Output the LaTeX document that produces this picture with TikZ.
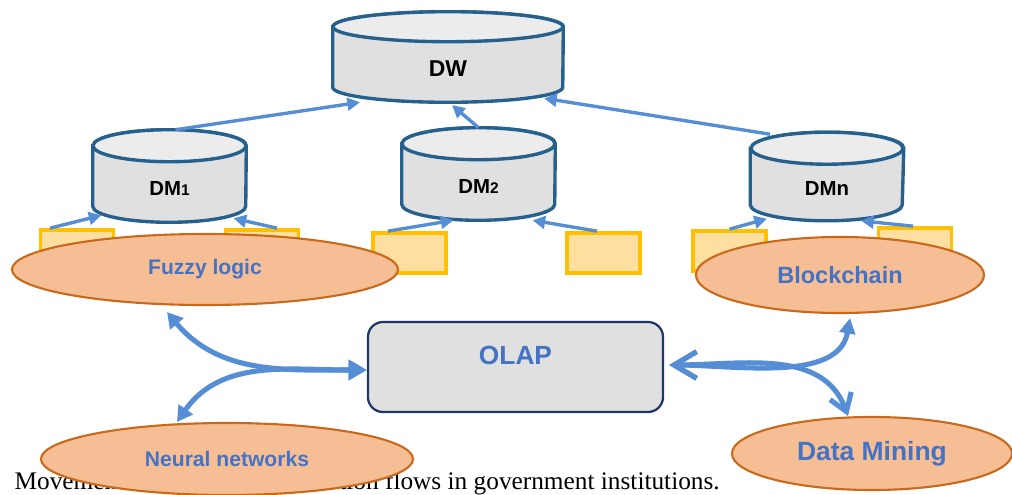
\documentclass[tikz,border=0pt]{standalone}
\usepackage{fontspec}
\setmainfont{Liberation Serif}
\setsansfont{Liberation Sans}
\usetikzlibrary{shapes.geometric, arrows.meta, backgrounds}

\definecolor{dbline}{HTML}{25618C}
\definecolor{dbbody}{HTML}{E0E0E0}
\definecolor{dbtop}{HTML}{ECECEC}
\definecolor{flowblue}{HTML}{558ED5}
\definecolor{txtblue}{HTML}{4472C4}
\definecolor{srcfill}{HTML}{FFDF9F}
\definecolor{srcline}{HTML}{FFC000}
\definecolor{techfill}{HTML}{F6BE95}
\definecolor{techline}{HTML}{C8691C}
\definecolor{olapline}{HTML}{1F3864}

\tikzset{
  dbase/.style={inner sep=0pt, minimum width=3.825cm, minimum height=2.3cm,
    text height=1cm, text depth=0.05cm,
    font=\sffamily\bfseries\fontsize{14.5}{16}\selectfont},
  dbwall/.style={draw=dbline, line width=2.4pt, fill=dbbody},
  srcbox/.style={draw=srcline, fill=srcfill, line width=2.6pt, minimum width=1.825cm, minimum height=1cm},
  tech/.style={ellipse, draw=techline, fill=techfill, line width=1.5pt, inner sep=0pt,
    text=txtblue, font=\sffamily\bfseries\fontsize{15}{17}\selectfont},
  feed/.style={draw=flowblue, line width=2.4pt, -{Triangle[length=9pt, width=9pt]}},
  link/.style={draw=flowblue, line width=3.6pt},
}

\begin{document}
\begin{tikzpicture}[x=0.025cm, y=-0.025cm]

  \useasboundingbox (0,0) rectangle (1012,494);

  % caption line of the page, half hidden
  \node[anchor=base east, inner sep=0pt, font=\fontsize{18}{20}\selectfont] (caption) at (720,489)
    {Movements of data and information flows in government institutions.};

  % warehouse and marts
  \node[dbase, minimum width=5.75cm, minimum height=2.25cm, font=\sffamily\bfseries\fontsize{16.3}{18}\selectfont] (DW) at (448,57) {DW};
  \node[dbase] (DM1) at (169.5,176) {DM{\fontsize{11}{12}\selectfont 1}};
  \node[dbase] (DM2) at (478.5,174) {DM{\fontsize{11}{12}\selectfont 2}};
  \node[dbase, minimum height=2.2cm] (DMn) at (827,176.5) {DMn};

  % cylinder bodies behind the labels
  \begin{pgfonlayer}{background}
    \foreach \n/\rx/\ry in {DW/2.875cm/0.375cm, DM1/1.9125cm/0.4cm, DM2/1.9125cm/0.4cm, DMn/1.9cm/0.4cm} {
      \path[dbwall] ([yshift=-\ry]\n.north west) -- ([yshift=\ry]\n.south west)
        arc[start angle=180, end angle=360, x radius=\rx, y radius=\ry]
        -- ([yshift=-\ry]\n.north east)
        arc[start angle=0, end angle=180, x radius=\rx, y radius=\ry] -- cycle;
      \path[dbwall, fill=dbtop] ([yshift=-\ry]\n.north) ellipse[x radius=\rx, y radius=\ry];
    }
  \end{pgfonlayer}

  % sources
  \node[srcbox] (b1) at (77,250) {};
  \node[srcbox] (b2) at (262,250) {};
  \node[srcbox] (b3) at (409.5,253) {};
  \node[srcbox] (b4) at (603.5,253) {};
  \node[srcbox] (b5) at (729.5,251) {};
  \node[srcbox] (b6) at (915,248) {};

  % marts -> warehouse
  \draw[feed] ([xshift=0.15cm]DM1.north) -- ([xshift=-2.2cm]DW.south);
  \draw[feed] (DM2.north) -- ([xshift=0.1cm, yshift=-0.07cm]DW.south);
  \draw[feed] ([xshift=-1.425cm, yshift=-0.05cm]DMn.north) -- ([xshift=2.4cm, yshift=0.1cm]DW.south);

  % sources -> marts
  \draw[feed] ([xshift=-0.675cm]b1.north) -- ([xshift=-1.7cm, yshift=0.175cm]DM1.south);
  \draw[feed] ([xshift=0.375cm]b2.north) -- ([xshift=1.6cm, yshift=0.1cm]DM1.south);
  \draw[feed] ([xshift=-0.54cm]b3.north) -- ([xshift=-0.625cm]DM2.south);
  \draw[feed] ([xshift=-0.16cm]b4.north) -- ([xshift=1.35cm]DM2.south);
  \draw[feed] (b5.north) -- ([xshift=-1.5cm, yshift=0.05cm]DMn.south);
  \draw[feed] ([xshift=-0.05cm]b6.north) -- ([xshift=0.85cm]DMn.south);

  % techniques
  \node[tech, minimum width=9.65cm, minimum height=1.775cm] (fuzzy) at (205,269.5) {Fuzzy logic};
  \node[tech, minimum width=7.2cm, minimum height=1.9cm, font=\sffamily\bfseries\fontsize{16.7}{18}\selectfont] (block) at (840,275) {Blockchain};
  \node[tech, minimum width=9.3cm, minimum height=1.8cm] (neural) at (227,459) {Neural networks};
  \node[tech, minimum width=7cm, minimum height=1.825cm, font=\sffamily\bfseries\fontsize{18.8}{20}\selectfont] (dmining) at (872,453.5) {Data Mining};

  % OLAP box
  \node[draw=olapline, fill=dbbody, line width=1.6pt, rounded corners=0.375cm,
    minimum width=7.375cm, minimum height=2.25cm] (olap) at (515.5,367) {};
  \node[text=txtblue, font=\sffamily\bfseries\fontsize{18.7}{20}\selectfont] (olaptxt) at (515.5,355) {OLAP};

  % OLAP links
  \draw[link, {Triangle[length=11pt, width=12pt]}-{Triangle[length=13pt, width=14pt]}]
    ([xshift=-0.95cm, yshift=-0.15cm]fuzzy.south) to[out=-50, in=180] ([yshift=-0.075cm]olap.west);
  \draw[link, {Triangle[length=13pt, width=14pt]}-{Triangle[length=11pt, width=12pt]}]
    ([yshift=-0.075cm]olap.west) to[out=180, in=55] ([xshift=-1.25cm]neural.north);
  \draw[link, line cap=round, {Straight Barb[length=16pt, width=19pt]}-{Triangle[length=11pt, width=11pt]}]
    ([xshift=0.125cm, yshift=0.05cm]olap.east) to[out=0, in=-100, looseness=0.9] ([xshift=0.25cm, yshift=-0.1cm]block.south);
  \draw[link, line cap=round, {Straight Barb[length=16pt, width=19pt]}-{Straight Barb[length=12pt, width=16pt]}]
    ([xshift=0.125cm, yshift=0.05cm]olap.east) to[out=0, in=110] ([xshift=-0.6cm]dmining.north);

\end{tikzpicture}
\end{document}
